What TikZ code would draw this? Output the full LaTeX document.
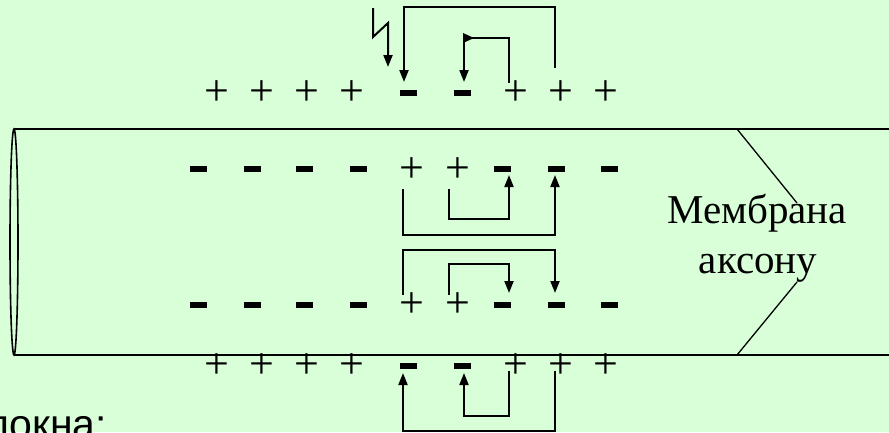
\documentclass[tikz,border=0pt]{standalone}
\usepackage{fontspec}
\setmainfont{Liberation Serif}
\newfontfamily\sansf{Liberation Sans}
\usetikzlibrary{arrows.meta}
\definecolor{bg}{RGB}{217,255,217}
\newcommand\minusbar{\rule{17pt}{6pt}}
\begin{document}
\begin{tikzpicture}[x=1pt,y=-1pt,
  plus/.style={inner sep=0pt, font=\fontsize{44}{44}\selectfont},
  minus/.style={inner sep=0pt},
  arr/.style={line width=2pt, -{Triangle[length=12pt,width=9pt]}},
  ln/.style={line width=2pt},
  lbl/.style={inner sep=0pt, anchor=base, font=\fontsize{41}{50}\selectfont},
]
\fill[bg] (0,0) rectangle (889,432);
\useasboundingbox (0,0) rectangle (889,432);
\begin{scope}
\clip (0,0) rectangle (889,432);
% axon tube
\draw[line width=2pt] (14,129) -- (889,129);
\draw[line width=1.6pt] (14,355) -- (889,355);
\draw[line width=1.6pt] (14,242) ellipse [x radius=4, y radius=113];
% charges: outer top row
\foreach \x [count=\i] in {217,262,307,352} \node[plus] (ta\i) at (\x,93) {+};
\foreach \x [count=\i] in {408,462} \node[minus] (tb\i) at (\x,93) {\minusbar};
\foreach \x [count=\i] in {516,561,606} \node[plus] (tc\i) at (\x,93) {+};
% inner top row
\foreach \x [count=\i] in {198,252,304,358} \node[minus] (ia\i) at (\x,169) {\minusbar};
\foreach \x [count=\i] in {412,458} \node[plus] (ib\i) at (\x,170) {+};
\foreach \x [count=\i] in {502,556,609} \node[minus] (ic\i) at (\x,169) {\minusbar};
% inner bottom row
\foreach \x [count=\i] in {198,252,304,358} \node[minus] (ja\i) at (\x,305) {\minusbar};
\foreach \x [count=\i] in {412,458} \node[plus] (jb\i) at (\x,305) {+};
\foreach \x [count=\i] in {502,556,609} \node[minus] (jc\i) at (\x,305) {\minusbar};
% outer bottom row
\foreach \x [count=\i] in {217,262,307,352} \node[plus] (ua\i) at (\x,366) {+};
\foreach \x [count=\i] in {408,462} \node[minus] (ub\i) at (\x,366) {\minusbar};
\foreach \x [count=\i] in {516,561,606} \node[plus] (uc\i) at (\x,366) {+};
% stimulus (lightning)
\coordinate (s0) at (373,8);
\coordinate (s1) at (388,67);
\draw[arr, line join=miter] (s0) -- (373,37) -- (388,23) -- (s1);
% current loops, outer top
\coordinate (a0) at (555,68);  \coordinate (a1) at (404,82);
\draw[arr] (a0) -- (555,7) -- (404,7) -- (a1);
\coordinate (b0) at (509,83);  \coordinate (b1) at (464,82);
\draw[arr] (b0) -- (509,38) -- (464,38) -- (b1);
\fill (463,33) -- (474,38) -- (463,43) -- cycle;
% inner top loops
\coordinate (c0) at (403,189); \coordinate (c1) at (555,175);
\draw[arr] (c0) -- (403,235) -- (555,235) -- (c1);
\coordinate (d0) at (449,189); \coordinate (d1) at (509,175);
\draw[arr] (d0) -- (449,219) -- (509,219) -- (d1);
% inner bottom loops
\coordinate (e0) at (403,295); \coordinate (e1) at (555,293);
\draw[arr] (e0) -- (403,250) -- (555,250) -- (e1);
\coordinate (f0) at (449,295); \coordinate (f1) at (509,293);
\draw[arr] (f0) -- (449,264) -- (509,264) -- (f1);
% outer bottom loops
\coordinate (g0) at (555,371); \coordinate (g1) at (403,373);
\draw[arr] (g0) -- (555,431) -- (403,431) -- (g1);
\coordinate (h0) at (509,371); \coordinate (h1) at (464,373);
\draw[arr] (h0) -- (509,416) -- (464,416) -- (h1);
% membrane label
\node[lbl] (m1) at (757,223) {Мембрана};
\node[lbl] (m2) at (758,273) {аксону};
\coordinate (p1) at (737,129); \coordinate (p2) at (797,203);
\coordinate (p3) at (797,282); \coordinate (p4) at (737,355);
\draw[line width=1.3pt] (p1) -- (p2);
\draw[line width=1.3pt] (p3) -- (p4);
% cut-off caption
\node[inner sep=0pt, anchor=base west, font=\sansf\fontsize{41}{41}\selectfont] (cap) at (-15,438) {локна:};
\end{scope}
\end{tikzpicture}
\end{document}
